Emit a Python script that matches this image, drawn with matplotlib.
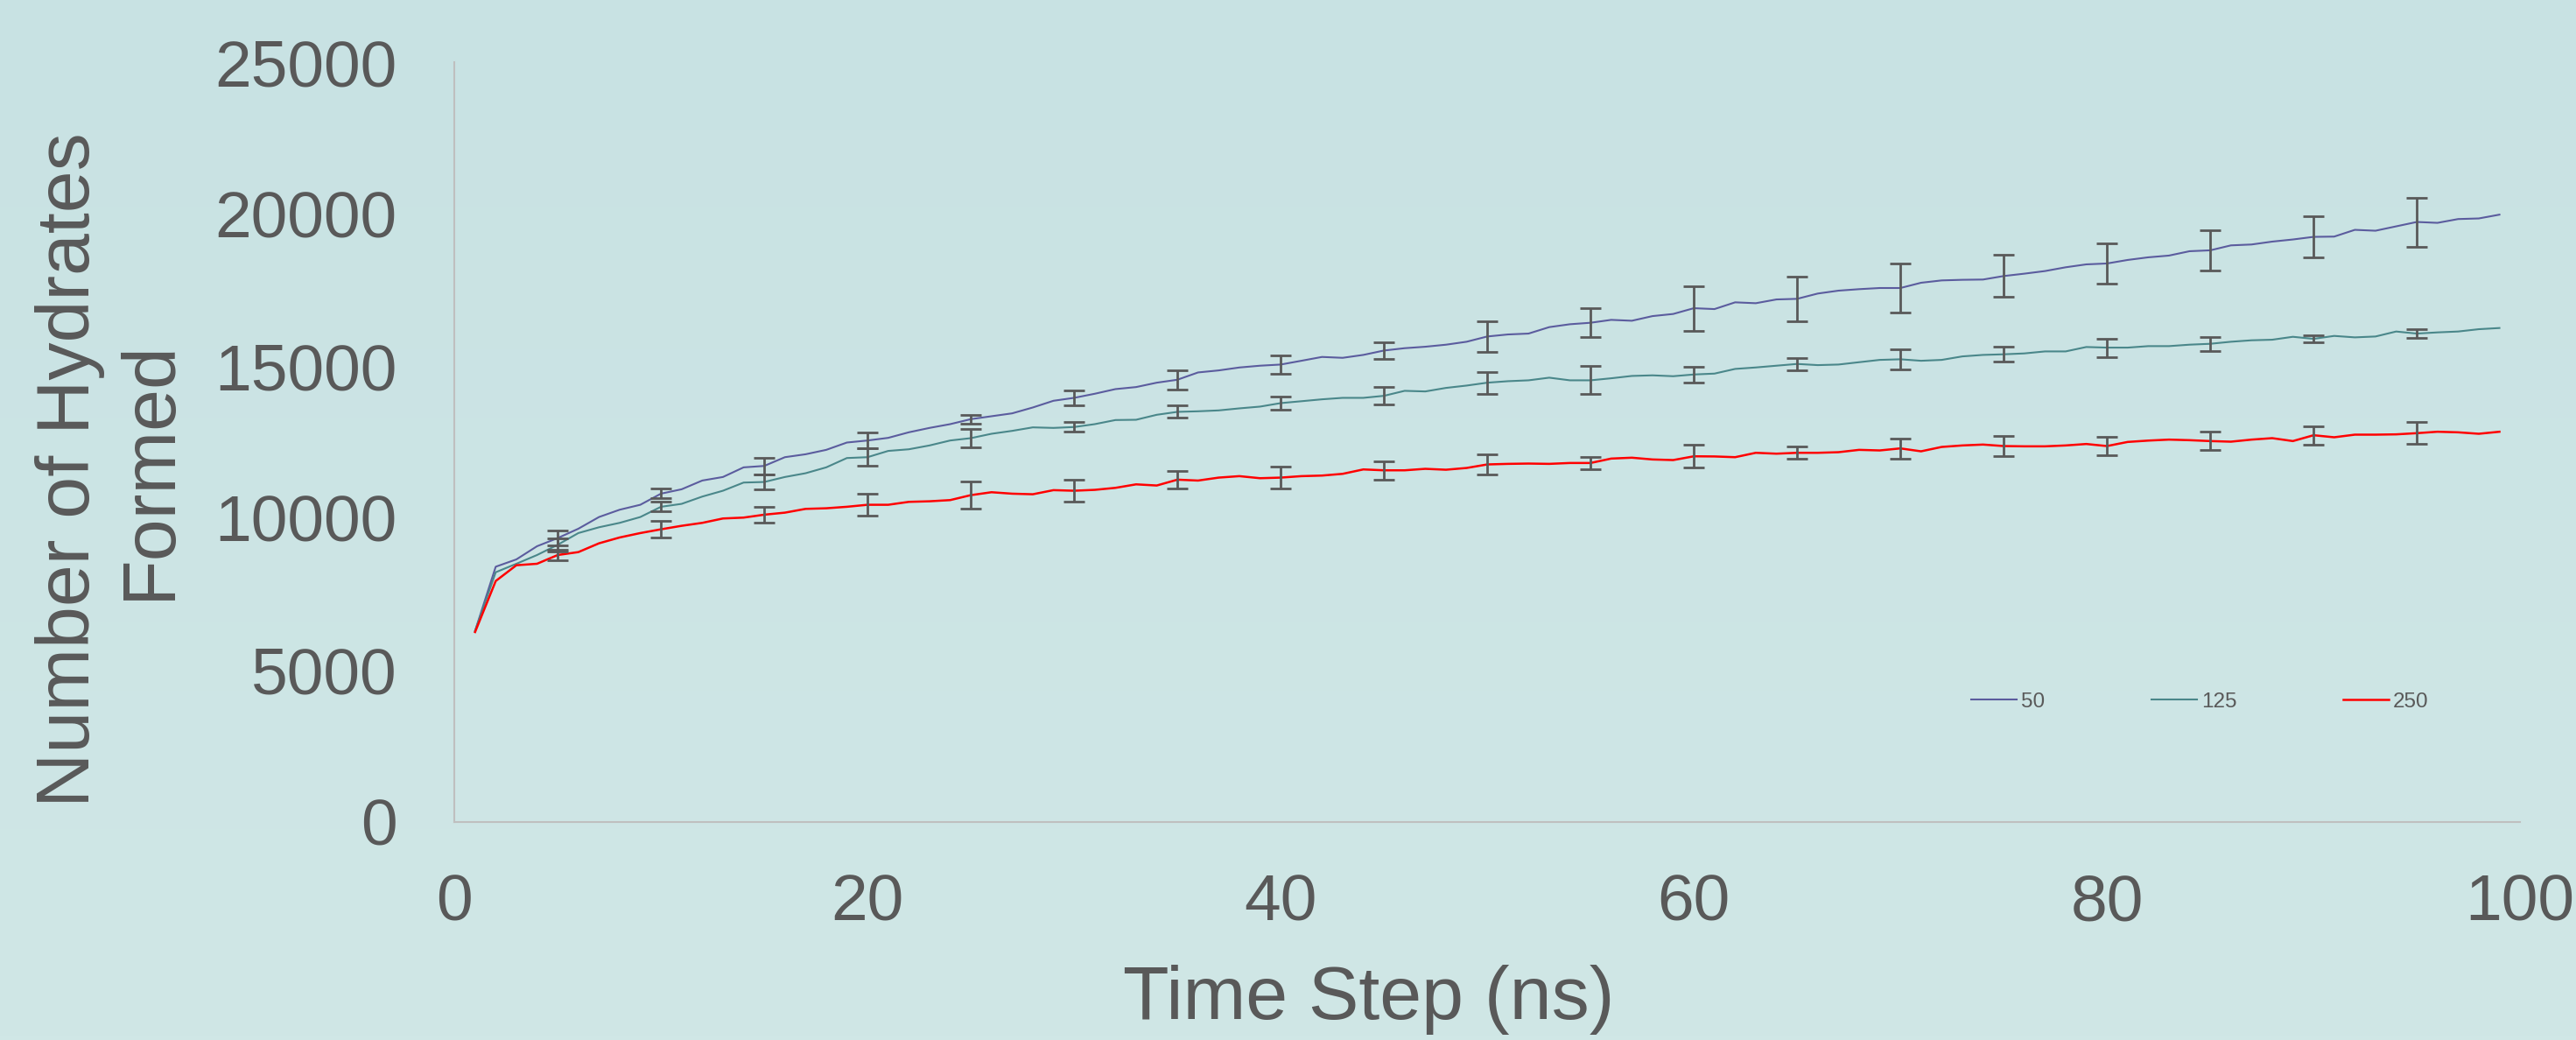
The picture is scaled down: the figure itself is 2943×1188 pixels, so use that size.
import numpy as np
import matplotlib
matplotlib.use("Agg")
import matplotlib.pyplot as plt
from matplotlib.colors import LinearSegmentedColormap

plt.rcParams['font.family'] = ['Liberation Sans', 'DejaVu Sans']

# time steps (ns)
steps = list(range(1, 100))

hyd_50 = [6286, 8400, 8641, 9074, 9342, 9650, 10035, 10275, 10438, 10804,
          10948, 11236, 11352, 11669, 11716, 12004, 12100, 12245, 12486, 12553,
          12640, 12823, 12967, 13091, 13255, 13351, 13446, 13639, 13860, 13956,
          14091, 14244, 14311, 14455, 14552, 14792, 14859, 14955, 15014, 15052,
          15176, 15302, 15273, 15369, 15513, 15590, 15638, 15705, 15802, 15975,
          16042, 16071, 16283, 16378, 16427, 16522, 16493, 16646, 16716, 16906,
          16877, 17099, 17070, 17194, 17214, 17388, 17483, 17532, 17570, 17570,
          17743, 17820, 17840, 17849, 17964, 18042, 18128, 18252, 18348, 18377,
          18493, 18580, 18637, 18781, 18810, 18973, 19002, 19097, 19167, 19253,
          19262, 19484, 19455, 19599, 19743, 19714, 19839, 19859, 19984]

hyd_125 = [6286, 8218, 8497, 8785, 9122, 9507, 9698, 9843, 10035, 10372,
           10468, 10708, 10900, 11169, 11188, 11352, 11476, 11669, 11976, 12004,
           12210, 12264, 12390, 12553, 12630, 12774, 12870, 12985, 12967, 12996,
           13091, 13226, 13235, 13399, 13495, 13514, 13543, 13610, 13668, 13783,
           13845, 13908, 13956, 13956, 14023, 14187, 14167, 14283, 14360, 14455,
           14504, 14533, 14620, 14533, 14533, 14600, 14677, 14697, 14668, 14725,
           14754, 14908, 14956, 15014, 15072, 15033, 15052, 15129, 15205, 15225,
           15176, 15205, 15320, 15369, 15389, 15418, 15484, 15484, 15629, 15609,
           15609, 15658, 15658, 15706, 15735, 15802, 15850, 15869, 15965, 15898,
           15994, 15946, 15975, 16139, 16071, 16110, 16139, 16215, 16254]

hyd_250 = [6250, 7930, 8449, 8497, 8785, 8881, 9170, 9362, 9507, 9631,
           9746, 9843, 9987, 10016, 10112, 10179, 10303, 10323, 10372, 10438,
           10438, 10534, 10553, 10592, 10755, 10851, 10803, 10784, 10919, 10900,
           10929, 10995, 11110, 11072, 11264, 11235, 11332, 11380, 11312, 11332,
           11380, 11399, 11456, 11601, 11572, 11572, 11621, 11591, 11649, 11765,
           11784, 11794, 11784, 11813, 11813, 11958, 11987, 11929, 11909, 12033,
           12028, 12004, 12148, 12119, 12148, 12148, 12168, 12245, 12226, 12293,
           12197, 12341, 12390, 12419, 12370, 12361, 12361, 12390, 12438, 12370,
           12505, 12550, 12582, 12563, 12534, 12514, 12582, 12630, 12534, 12726,
           12659, 12745, 12745, 12755, 12794, 12841, 12822, 12774, 12841]

# error bars every 5 ns
err_steps = list(range(5, 100, 5))
err_50 = [250, 160, 274, 250, 150, 240, 317, 312, 265, 495,
          471, 735, 730, 817, 692, 668, 663, 673, 807]
err_125 = [210, 160, 240, 288, 312, 154, 202, 211, 298, 356,
           461, 265, 202, 327, 240, 303, 225, 120, 154]
err_250 = [170, 265, 250, 360, 447, 351, 293, 351, 298, 332,
           202, 370, 202, 337, 332, 303, 298, 298, 356]

labels = ['50', '125', '250']
colors = ['#5B5C9E', '#4A878A', '#FF0000']

TXT = '#595959'

fig = plt.figure(figsize=(29.43, 11.88), dpi=100)

# soft vertical gradient background
bg = fig.add_axes([0, 0, 1, 1], zorder=-10)
cmap = LinearSegmentedColormap.from_list('bg', ['#D0E7E6', '#C8E2E3'])
bg.imshow(np.linspace(0, 1, 256).reshape(-1, 1), aspect='auto', cmap=cmap,
          origin='lower', extent=[0, 1, 0, 1])
bg.axis('off')

ax = fig.add_axes([0.1764, 0.2096, 0.8019, 0.7306])
ax.set_facecolor('none')

for series, errs, lab, col in zip([hyd_50, hyd_125, hyd_250],
                                  [err_50, err_125, err_250], labels, colors):
    lw = 1.8 if col == '#FF0000' else 1.5
    ax.plot(steps, series, color=col, lw=lw, label=lab, solid_joinstyle='round', zorder=2)
    ys = [series[steps.index(t)] for t in err_steps]
    ax.errorbar(err_steps, ys, yerr=errs, fmt='none', ecolor=TXT,
                elinewidth=2.0, capsize=8.5, capthick=2.0, zorder=3)

ax.set_xlim(0, 100)
ax.set_ylim(0, 25000)
ax.set_xticks([0, 20, 40, 60, 80, 100])
ax.set_yticks([0, 5000, 10000, 15000, 20000, 25000])

for s in ['top', 'right']:
    ax.spines[s].set_visible(False)
for s in ['left', 'bottom']:
    ax.spines[s].set_color('#BFBFBF')
    ax.spines[s].set_linewidth(1.5)

ax.tick_params(axis='both', length=0, labelsize=54, labelcolor=TXT)
ax.tick_params(axis='x', pad=42)
ax.tick_params(axis='y', pad=47)

fig.text(0.5315, 0.020, 'Time Step (ns)', fontsize=62, color=TXT,
         ha='center', va='baseline')
fig.text(0.0428, 0.548, 'Number of Hydrates\nFormed', fontsize=62, color=TXT,
         rotation=90, ha='center', va='center', multialignment='center')

leg = ax.legend(loc='center', bbox_to_anchor=(0.845, 0.158), ncol=3,
                frameon=False, fontsize=17.5, handlelength=2.14,
                handletextpad=0.2, columnspacing=5.0)
for t in leg.get_texts():
    t.set_color(TXT)

fig.savefig('out.png', dpi=100)
